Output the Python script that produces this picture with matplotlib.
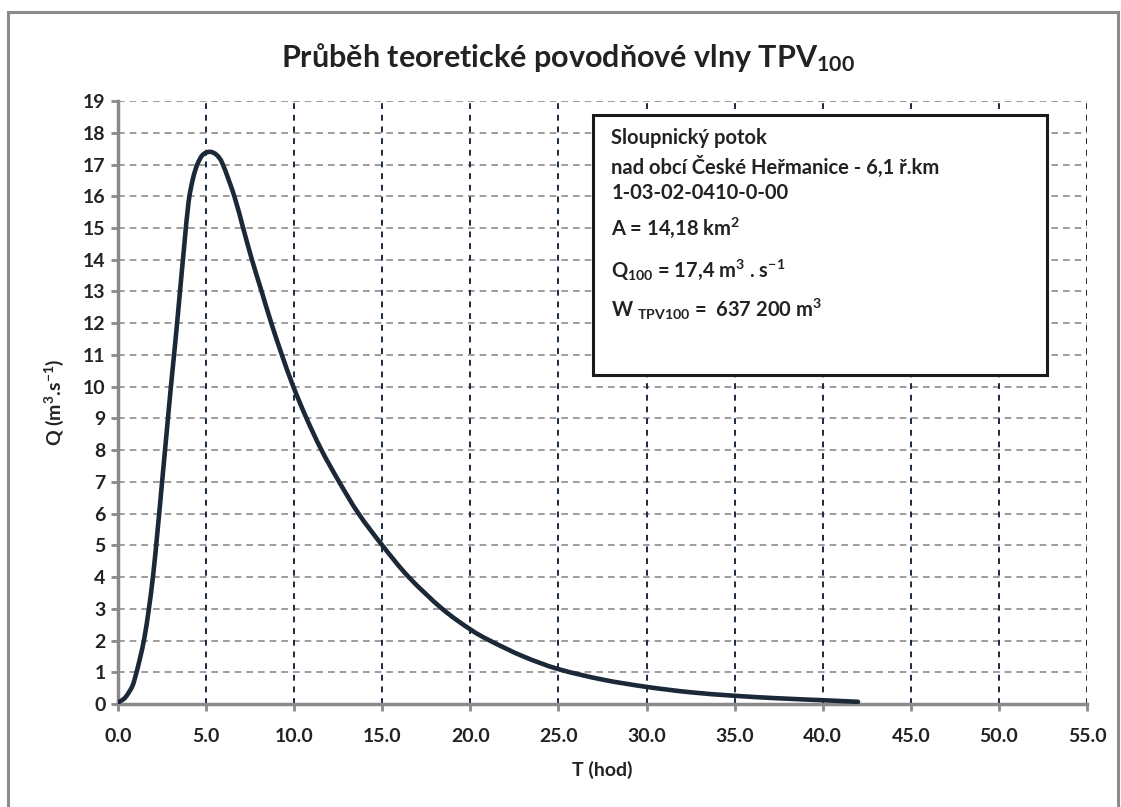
import matplotlib
matplotlib.use("Agg")
import matplotlib.pyplot as plt
import numpy as np
from matplotlib.patches import Rectangle, PathPatch
from matplotlib.path import Path

plt.rcParams['font.family'] = ['Lato', 'DejaVu Sans']
plt.rcParams['font.weight'] = 'bold'
plt.rcParams['axes.labelweight'] = 'bold'
plt.rcParams['mathtext.fontset'] = 'custom'
plt.rcParams['mathtext.rm'] = 'Lato:bold'
plt.rcParams['mathtext.it'] = 'Lato:bold'
plt.rcParams['mathtext.bf'] = 'Lato:bold'

# hydrograph
t_hod = [0.0, 0.4, 0.8, 1.0, 1.25, 1.5, 1.75, 2.0, 2.25, 2.5, 2.75, 3.0, 3.25,
         3.5, 3.75, 4.0, 4.25, 4.5, 4.8, 5.2, 5.6, 5.95, 6.6, 7.1, 7.6, 8.15,
         8.7, 9.3, 9.95, 10.7, 11.55, 12.55, 13.65, 15.0, 16.5, 18.4, 20.0, 21.1,
         23.0, 25.0, 27.5, 30.0, 32.5, 35.0, 37.5, 40.0, 42.0]
q_m3s = [0.05, 0.2, 0.55, 0.9, 1.45, 2.1, 3.0, 4.1, 5.5, 7.0, 8.5, 10.0, 11.4,
         12.9, 14.4, 15.8, 16.55, 17.0, 17.3, 17.4, 17.3, 17.0, 16.0, 15.0,
         14.0, 13.0, 12.0, 11.0, 10.0, 9.0, 8.0, 7.0, 6.0, 5.0, 4.0, 3.0, 2.35,
         2.0, 1.5, 1.1, 0.77, 0.54, 0.37, 0.26, 0.18, 0.12, 0.07]

x_ticks = [0, 5, 10, 15, 20, 25, 30, 35, 40, 45, 50, 55]
y_ticks = list(range(0, 20))

title = "Průběh teoretické povodňové vlny TPV$_{\\mathrm{100}}$"
info_lines = [
    "Sloupnický potok",
    "nad obcí České Heřmanice - 6,1 ř.km",
    "1-03-02-0410-0-00",
    "A = 14,18 km$^{\\mathrm{2}}$",
    "Q$_{\\mathrm{100}}$ = 17,4 m$^{\\mathrm{3}}$ . s$^{\\mathrm{-1}}$",
    "W $_{\\mathrm{TPV100}}$ =  637 200 m$^{\\mathrm{3}}$",
]
info_y = [0.939, 0.891, 0.848, 0.790, 0.720, 0.654]


def smooth_path(xs, ys):
    # smoothed line like Excel: Catmull-Rom segments as cubic Bezier curves
    p = np.column_stack([xs, ys]).astype(float)
    verts = [p[0]]
    codes = [Path.MOVETO]
    n = len(p)
    for i in range(n - 1):
        p0 = p[i - 1] if i > 0 else p[i]
        p3 = p[i + 2] if i + 2 < n else p[i + 1]
        c1 = p[i] + (p[i + 1] - p0) / 6.0
        c2 = p[i + 1] - (p3 - p[i]) / 6.0
        verts += [c1, c2, p[i + 1]]
        codes += [Path.CURVE4] * 3
    return Path(verts, codes)


fig = plt.figure(figsize=(11.21, 8.07), dpi=100)
fig.patch.set_facecolor("white")

# page frame of the scanned chart
fig.patches.append(Rectangle((0.007, -0.02), 0.99, 1.005, transform=fig.transFigure,
                             fill=False, edgecolor="#8c8c8c", linewidth=2.2))

ax = fig.add_axes([0.1053, 0.1276, 0.8644, 0.7472])
ax.add_patch(PathPatch(smooth_path(t_hod, q_m3s), facecolor="none",
                       edgecolor="#1b2838", linewidth=3.3, capstyle="round",
                       joinstyle="round", zorder=5))

ax.set_xlim(0, 55)
ax.set_ylim(0, 19)
ax.set_xticks(x_ticks)
ax.set_xticklabels([f"{v:.1f}" for v in x_ticks], fontweight="bold")
ax.set_yticks(y_ticks)
ax.set_yticklabels([str(v) for v in y_ticks], fontweight="bold")

for y in y_ticks[1:]:
    ax.axhline(y, color="#8c8c8c", linewidth=1.2, dashes=(4, 3), zorder=1)
for x in x_ticks[1:]:
    ax.axvline(x, color="#1a2a40", linewidth=1.4, dashes=(3, 3), zorder=1)

for s in ["top", "right"]:
    ax.spines[s].set_visible(False)
for s in ["left", "bottom"]:
    ax.spines[s].set_color("#8a8a8a")
    ax.spines[s].set_linewidth(2.5)

ax.tick_params(axis="both", colors="#8a8a8a", labelcolor="#222222",
               labelsize=14, width=2, length=5)
ax.tick_params(axis="x", pad=12)
ax.tick_params(axis="y", pad=4)

ax.set_xlabel("T (hod)", fontsize=14, color="#222222", labelpad=12,
              fontweight="bold")
ax.set_ylabel("Q (m$^{\\mathrm{3}}$.s$^{\\mathrm{-1}}$)", fontsize=14,
              color="#222222", labelpad=12, fontweight="bold")

fig.text(0.507, 0.917, title, ha="center", va="baseline", fontsize=22,
         color="#222222", fontweight="bold")

ax.add_patch(Rectangle((0.490, 0.545), 0.469, 0.432, transform=ax.transAxes,
                       facecolor="white", edgecolor="#1a1a1a", linewidth=2.2,
                       zorder=6))
for line, y in zip(info_lines, info_y):
    ax.text(0.509, y, line, transform=ax.transAxes, fontsize=14.5, va="center",
            ha="left", color="#222222", zorder=7, fontweight="bold")

fig.savefig("out.png", dpi=100)
